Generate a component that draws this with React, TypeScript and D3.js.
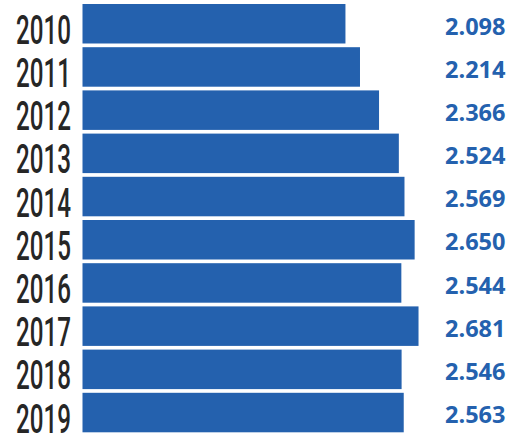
import React from "react";
import * as d3 from "d3";

const years: string[] = ["2010", "2011", "2012", "2013", "2014", "2015", "2016", "2017", "2018", "2019"];
const values: number[] = [2.098, 2.214, 2.366, 2.524, 2.569, 2.65, 2.544, 2.681, 2.546, 2.563];
const valueLabels: string[] = ["2.098", "2.214", "2.366", "2.524", "2.569", "2.650", "2.544", "2.681", "2.546", "2.563"];

const W = 521;
const H = 436;
const BAR_COLOR = "#2461AE";
const LABEL_COLOR = "#2461AE";

export default function App() {
  const x = d3.scaleLinear().domain([0, 3]).range([82.5, 458.5]);
  const y = d3
    .scaleBand<string>()
    .domain(years)
    .range([4, 432.3])
    .paddingInner(0.0856)
    .paddingOuter(0);
  const bw = y.bandwidth();

  return (
    <svg
      width={W}
      height={H}
      style={{ position: "absolute", left: 0, top: 0, background: "#fff" }}
    >
      {years.map((yr, i) => {
        const y0 = y(yr) as number;
        return (
          <g key={yr}>
            <rect
              x={x(0)}
              y={y0}
              width={x(values[i]) - x(0)}
              height={bw}
              fill={BAR_COLOR}
            />
            <text
              x={16}
              y={y0 + bw + 0.3}
              fontFamily="Roboto"
              fontWeight={500}
              fontSize={40}
              fill="#262626"
              textLength={55}
              lengthAdjust="spacingAndGlyphs"
            >
              {yr}
            </text>
            <text
              x={445}
              y={y0 + 30.5}
              fontFamily="'Open Sans'"
              fontWeight={700}
              fontSize={23.5}
              fill={LABEL_COLOR}
            >
              {valueLabels[i]}
            </text>
          </g>
        );
      })}
    </svg>
  );
}
